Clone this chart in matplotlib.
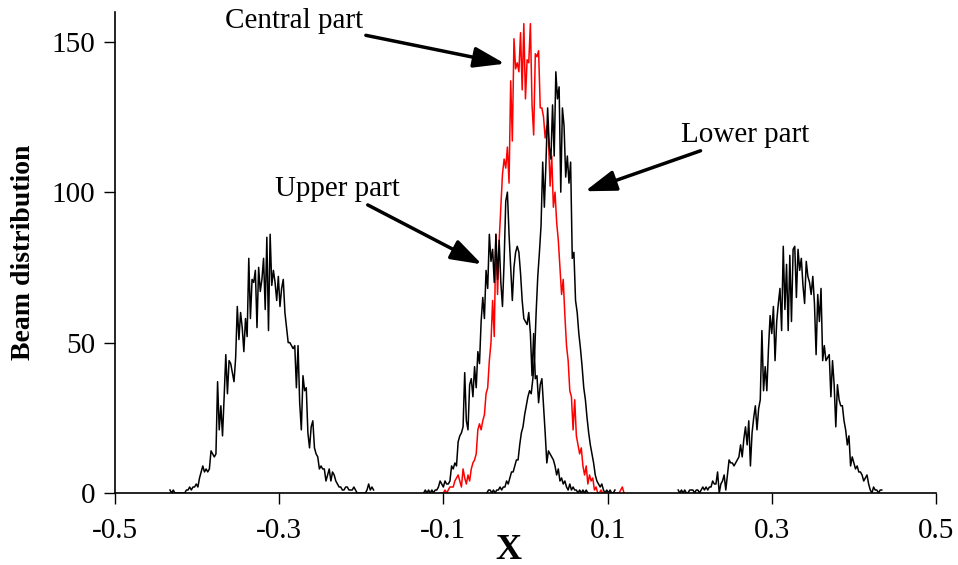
import numpy as np
import matplotlib
matplotlib.use("Agg")
import matplotlib.pyplot as plt

plt.rcParams['font.family'] = ['Liberation Serif', 'DejaVu Serif']

step = 0.002  # histogram bin width

# left outer peak
left_x0 = -0.433
left_vals = [1, 0, 1, 0, 0, 0, 0, 0, 0, 0, 1, 1, 2, 1, 2, 2, 3, 2, 5, 7,
             9, 7, 8, 7, 8, 14, 13, 12, 13, 37, 21, 29, 19, 32, 46, 33, 44, 43, 40, 37,
             45, 62, 51, 60, 55, 47, 58, 52, 78, 58, 71, 70, 74, 55, 75, 67, 71, 78, 61, 85,
             54, 86, 69, 74, 70, 64, 72, 62, 68, 71, 60, 55, 50, 50, 49, 48, 49, 35, 49, 30,
             21, 39, 34, 35, 20, 15, 22, 24, 15, 13, 12, 8, 9, 8, 8, 4, 6, 8, 4, 7,
             6, 4, 3, 2, 2, 1, 1, 2, 2, 1, 1, 1, 2, 1, 0, 0, 0, 0, 0, 0,
             1, 3, 1, 2, 1]

# upper part
upper_x0 = -0.124
upper_vals = [0, 1, 0, 1, 0, 1, 0, 1, 1, 2, 4, 3, 2, 4, 3, 3, 4, 9, 8, 10,
              9, 17, 19, 20, 22, 40, 24, 21, 36, 38, 32, 42, 35, 47, 43, 57, 65, 58, 74, 68,
              86, 77, 81, 70, 86, 71, 84, 70, 62, 77, 97, 100, 86, 75, 64, 75, 80, 82, 80, 73,
              64, 58, 57, 56, 60, 53, 39, 53, 38, 39, 30, 36, 38, 29, 20, 10, 14, 13, 12, 11,
              9, 6, 8, 4, 5, 3, 4, 2, 1, 3, 1, 2, 1, 1, 0, 1, 0, 1, 0, 1, 0]

# central part (red)
central_x0 = -0.104
central_vals = [0, 0, 0, 1, 0, 1, 2, 2, 2, 4, 5, 6, 4, 2, 8, 5, 3, 6, 4, 8,
                10, 11, 13, 21, 23, 21, 24, 26, 33, 35, 44, 50, 64, 52, 86, 66, 84, 95, 106, 111,
                108, 115, 103, 137, 117, 151, 141, 143, 140, 153, 134, 156, 131, 144, 143, 156, 129, 119, 146, 145,
                147, 128, 128, 125, 118, 122, 118, 102, 112, 95, 100, 90, 84, 75, 66, 71, 59, 49, 44, 34,
                32, 21, 31, 19, 16, 13, 15, 9, 6, 9, 3, 6, 4, 5, 1, 2, 0, 0, 1, 0,
                0, 0, 0, 0, 0, 0, 0, 0, 0, 0, 1, 2, 0]

# lower part
lower_x0 = -0.047
lower_vals = [0, 1, 1, 0, 1, 0, 1, 1, 2, 1, 2, 2, 4, 3, 5, 7, 7, 9, 11, 11,
              16, 20, 22, 26, 29, 32, 34, 33, 38, 45, 60, 72, 80, 89, 110, 95, 110, 128, 115, 111,
              129, 112, 140, 131, 135, 100, 128, 122, 105, 112, 103, 110, 78, 80, 64, 60, 53, 48, 42, 35,
              31, 25, 20, 16, 13, 10, 6, 4, 3, 2, 3, 1, 0, 1, 0, 1, 0, 0, 1]

# right outer peak
right_x0 = 0.186
right_vals = [1, 0, 1, 0, 1, 0, 0, 1, 1, 1, 0, 1, 1, 0, 1, 2, 1, 2, 1, 2,
              2, 4, 3, 3, 7, 0, 3, 4, 6, 1, 6, 11, 10, 10, 9, 10, 11, 12, 16, 12,
              18, 22, 16, 24, 9, 20, 25, 29, 21, 28, 31, 54, 34, 42, 34, 48, 59, 53, 62, 44,
              57, 63, 68, 54, 82, 61, 76, 54, 79, 57, 81, 82, 65, 81, 74, 78, 69, 63, 77, 72,
              70, 66, 72, 63, 46, 66, 57, 68, 44, 49, 44, 45, 46, 32, 44, 36, 22, 36, 31, 29,
              29, 24, 21, 16, 19, 9, 12, 10, 8, 9, 7, 7, 6, 4, 5, 6, 3, 1, 0, 2,
              1, 1, 0, 1, 1]

xticks = [-0.5, -0.3, -0.1, 0.1, 0.3, 0.5]
yticks = [0, 50, 100, 150]


def centers(x0, vals):
    return x0 + step * np.arange(len(vals))


fig = plt.figure(figsize=(9.58, 5.65), dpi=100)
ax = fig.add_axes([0.12, 0.1274, 0.857, 0.852])

ax.plot(centers(central_x0, central_vals), central_vals, color='red', lw=1.1)
ax.plot(centers(left_x0, left_vals), left_vals, color='black', lw=1.1)
ax.plot(centers(upper_x0, upper_vals), upper_vals, color='black', lw=1.1)
ax.plot(centers(lower_x0, lower_vals), lower_vals, color='black', lw=1.1)
ax.plot(centers(right_x0, right_vals), right_vals, color='black', lw=1.1)

ax.set_xlim(-0.5, 0.5)
ax.set_ylim(0, 160)
ax.set_xticks(xticks)
ax.set_xticklabels([f"{t:g}" for t in xticks])
ax.set_yticks(yticks)
for s in ['top', 'right']:
    ax.spines[s].set_visible(False)
for s in ['left', 'bottom']:
    ax.spines[s].set_linewidth(1.2)
ax.tick_params(axis='both', direction='out', length=8, width=1.0,
               labelsize=21, pad=10)
ax.tick_params(axis='y', pad=6)

ax.set_xlabel("X", fontsize=26, fontweight='bold')
ax.xaxis.set_label_coords(0.479, -0.085)
ax.set_ylabel("Beam distribution", fontsize=20, fontweight='bold', labelpad=11)

arrow = dict(arrowstyle='-|>,head_length=0.9,head_width=0.3', lw=2.5, color='black',
             shrinkA=0, shrinkB=0)
ax.annotate("Central part", xy=(-0.025, 142.7), xytext=(-0.366, 157),
            fontsize=21, ha='left', va='center', arrowprops=arrow)
ax.annotate("Lower part", xy=(0.0725, 100.3), xytext=(0.19, 119),
            fontsize=21, ha='left', va='center', arrowprops=arrow)
ax.annotate("Upper part", xy=(-0.053, 76), xytext=(-0.305, 101),
            fontsize=21, ha='left', va='center', arrowprops=arrow)

fig.savefig("out.png", dpi=100)
